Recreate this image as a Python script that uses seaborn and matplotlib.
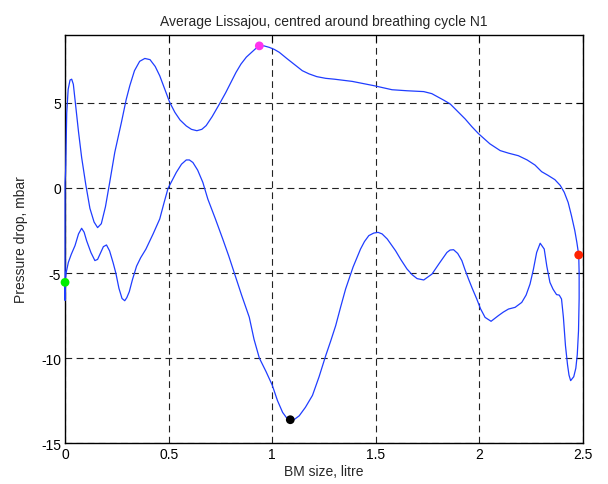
import pandas as pd
import seaborn as sns
import matplotlib
matplotlib.use('Agg')
import matplotlib.pyplot as plt

# loop traced around the breathing cycle (upper branch left->right, lower branch right->left)
bm_size = [0.0, 0.0, 0.0, 0.003, 0.008, 0.015, 0.024, 0.032, 0.04, 0.05, 0.065, 0.08, 0.1, 0.12,
           0.14, 0.157, 0.175, 0.195, 0.215, 0.24, 0.272, 0.295, 0.3125, 0.335, 0.36, 0.385,
           0.41, 0.435, 0.457, 0.48, 0.505, 0.53, 0.555, 0.585, 0.61, 0.636, 0.66, 0.681, 0.71,
           0.745, 0.775, 0.8, 0.825, 0.849, 0.875, 0.9, 0.92, 0.9375, 0.96, 0.986, 1.01, 1.034,
           1.07, 1.114, 1.145, 1.178, 1.215, 1.258, 1.3, 1.386, 1.49, 1.578, 1.65, 1.731, 1.77,
           1.803, 1.83, 1.859, 1.895, 1.931, 1.963, 1.995, 2.05, 2.1, 2.14, 2.1875, 2.23, 2.268,
           2.3, 2.33, 2.364, 2.39, 2.409, 2.428, 2.444, 2.46, 2.47, 2.479,
           2.481, 2.481, 2.478, 2.472, 2.465, 2.455, 2.44, 2.432, 2.425, 2.415, 2.405, 2.396,
           2.385, 2.372, 2.355, 2.34, 2.325, 2.3125, 2.293, 2.276, 2.26, 2.244, 2.225, 2.204,
           2.172, 2.14, 2.115, 2.091, 2.056, 2.027, 2.005, 1.987, 1.965, 1.947, 1.93, 1.915,
           1.895, 1.875, 1.858, 1.843, 1.805, 1.771, 1.731, 1.699, 1.675, 1.65, 1.62, 1.595,
           1.555, 1.53, 1.511, 1.49, 1.466, 1.445, 1.426, 1.39, 1.354, 1.33, 1.306, 1.282, 1.258,
           1.226, 1.194, 1.16, 1.13, 1.108, 1.087, 1.068, 1.05, 1.025, 1.0, 0.97, 0.9375, 0.912,
           0.889, 0.852, 0.817, 0.79, 0.761, 0.725, 0.689, 0.665, 0.64, 0.617, 0.6, 0.585, 0.562,
           0.537, 0.517, 0.497, 0.477, 0.457, 0.425, 0.39, 0.365, 0.345, 0.325, 0.31, 0.298,
           0.288, 0.275, 0.26, 0.245, 0.232, 0.215, 0.2, 0.185, 0.17, 0.157, 0.144, 0.125, 0.104,
           0.092, 0.08, 0.065, 0.048, 0.03, 0.016, 0.005, 0.0]
pressure = [-5.55, -6.6, 0.3, 1.1, 4.4, 5.8, 6.35, 6.4, 6.1, 5.0, 3.3, 1.8, 0.2, -1.2,
            -2.0, -2.33, -2.1, -1.1, 0.3, 2.1, 3.86, 5.2, 6.02, 6.9, 7.45, 7.62,
            7.55, 7.15, 6.6, 5.85, 5.04, 4.45, 4.0, 3.65, 3.45, 3.37, 3.45, 3.67, 4.2,
            4.94, 5.6, 6.2, 6.8, 7.29, 7.7, 7.98, 8.2, 8.33, 8.36, 8.27, 8.15, 7.98,
            7.62, 7.2, 6.9, 6.71, 6.55, 6.45, 6.4, 6.27, 6.02, 5.78, 5.72, 5.67, 5.55,
            5.33, 5.15, 4.94, 4.5, 4.06, 3.61, 3.2, 2.6, 2.2, 2.05, 1.9, 1.65, 1.35,
            0.96, 0.75, 0.49, 0.15, -0.25, -0.85, -1.63, -2.5, -3.2, -3.94,
            -5.0, -6.5, -8.4, -9.8, -10.6, -11.1, -11.33, -11.0, -10.4, -9.27, -7.6, -6.53,
            -6.3, -6.27, -5.95, -5.55, -4.6, -3.59, -3.25, -3.79, -4.8, -5.65, -6.3, -6.73,
            -7.02, -7.12, -7.3, -7.51, -7.84, -7.61, -7.1, -6.53, -5.9, -5.35, -4.8, -4.27,
            -3.85, -3.63, -3.65, -3.79, -4.45, -5.06, -5.41, -5.33, -5.1, -4.76, -4.2, -3.69,
            -3.0, -2.7, -2.61, -2.65, -2.8, -3.15, -3.59, -4.65, -5.94, -7.0, -8.1, -9.0, -9.86,
            -11.1, -12.2, -12.9, -13.4, -13.6, -13.63, -13.5, -13.2, -12.5, -11.6, -10.8, -10.0,
            -8.9, -7.6, -6.3, -5.0, -4.0, -3.0, -1.8, -0.65, 0.33, 1.05, 1.5, 1.65, 1.65, 1.4,
            0.92, 0.45, -0.02, -0.9, -1.82, -2.7, -3.6, -4.1, -4.6, -5.4, -6.1, -6.45,
            -6.63, -6.5, -5.9, -5.0, -4.4, -3.7, -3.35, -3.45, -3.85, -4.2, -4.27, -3.8, -3.1,
            -2.6, -2.37, -2.7, -3.39, -3.9, -4.37, -5.0, -5.55]

# marked points: start, max pressure, max volume, min pressure
mark_x = [0.0, 0.9375, 2.479, 1.087]
mark_y = [-5.55, 8.36, -3.94, -13.63]
mark_col = ['#00ee00', '#ff33ee', '#ff2200', '#000000']

df = pd.DataFrame({'bm': bm_size, 'dp': pressure})
marks = pd.DataFrame({'bm': mark_x, 'dp': mark_y, 'name': ['start', 'max', 'right', 'min']})

sns.set_style('white')
plt.rcParams['font.family'] = ['Liberation Sans', 'DejaVu Sans']
plt.rcParams['axes.unicode_minus'] = False

fig = plt.figure(figsize=(6.08, 4.85), dpi=100)
ax = fig.add_axes([0.107, 0.0845, 0.852, 0.8413])

sns.lineplot(data=df, x='bm', y='dp', sort=False, estimator=None, color='#1f3dff',
             linewidth=0.9, ax=ax, zorder=3, clip_on=False)
sns.scatterplot(data=marks, x='bm', y='dp', hue='name', palette=mark_col, s=40,
                edgecolor='none', legend=False, ax=ax, zorder=4, clip_on=False)

ax.set_xlim(0, 2.5)
ax.set_ylim(-15, 9)
ax.set_xticks([0, 0.5, 1, 1.5, 2, 2.5])
ax.set_xticklabels(['0', '0.5', '1', '1.5', '2', '2.5'])
ax.set_yticks([-15, -10, -5, 0, 5])
ax.grid(True, color='#222222', linestyle=(0, (6, 4)), linewidth=0.8)
ax.tick_params(direction='in', length=5, width=0.8, top=True, right=True,
               labelsize=10, colors='black', pad=3)
for sp in ax.spines.values():
    sp.set_color('black')
    sp.set_linewidth(1.0)
    sp.set_zorder(2)

ax.set_title('Average Lissajou, centred around breathing cycle N1', fontsize=10, pad=7)
ax.set_xlabel('BM size, litre', fontsize=10, labelpad=2)
ax.set_ylabel('Pressure drop, mbar', fontsize=10, labelpad=9)

fig.savefig('out.png', dpi=100)
